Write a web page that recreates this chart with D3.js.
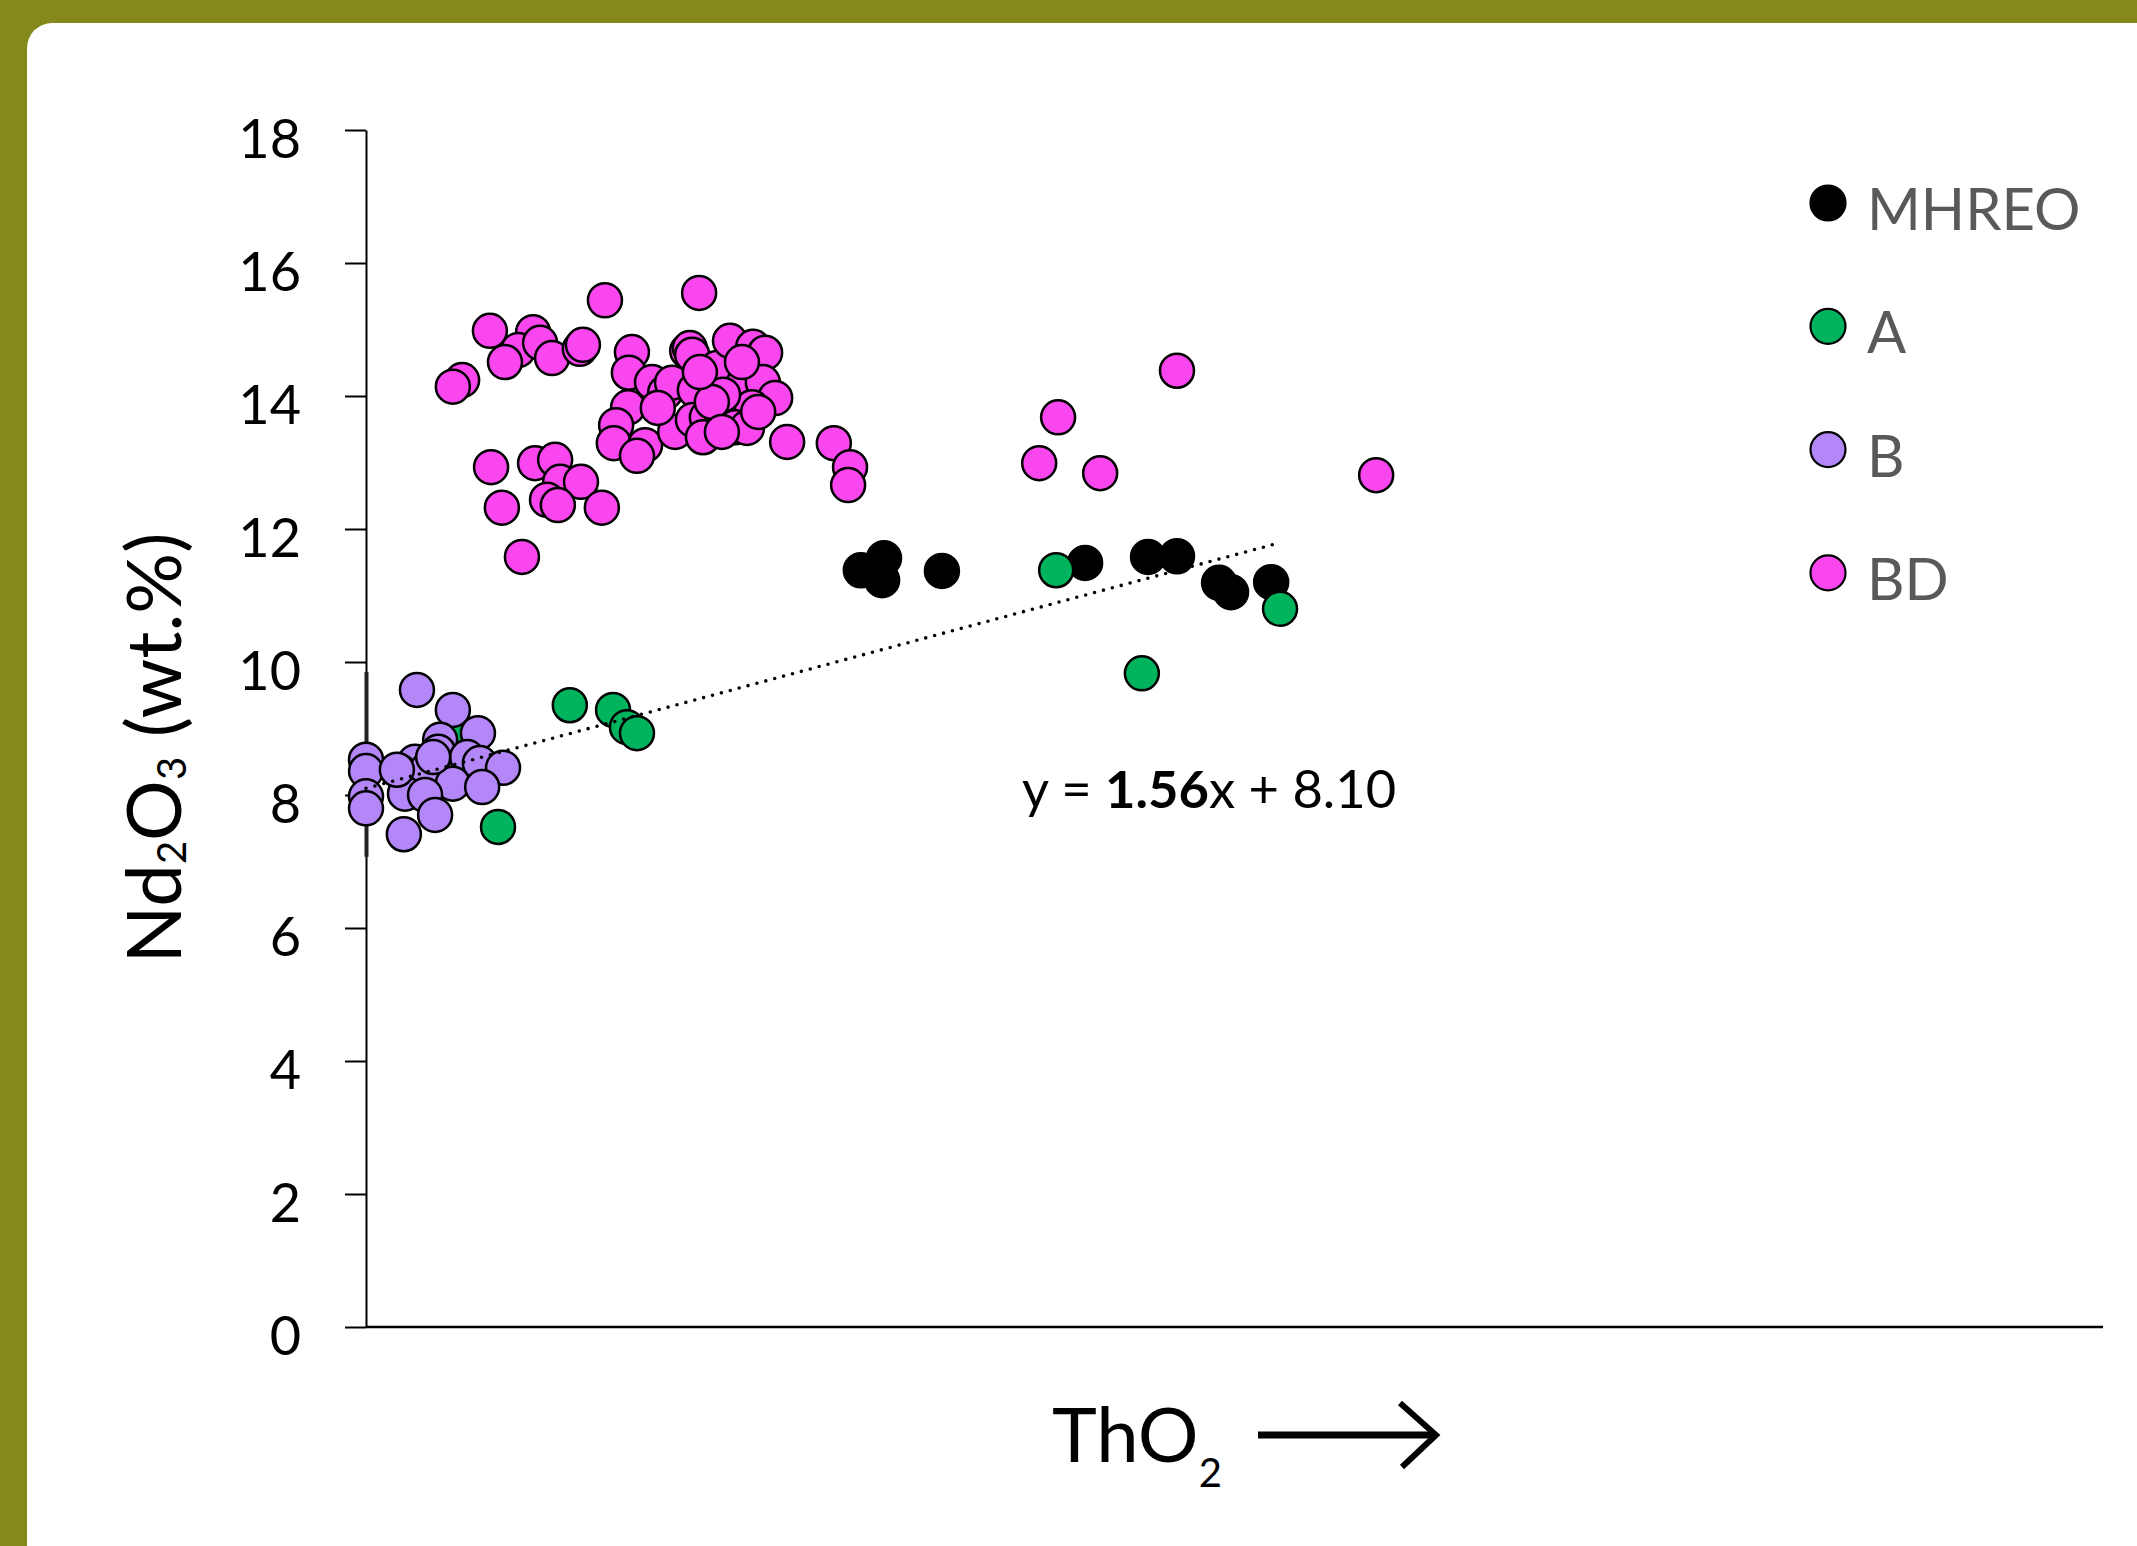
<!DOCTYPE html>
<html><head><meta charset="utf-8">
<script src="https://cdn.jsdelivr.net/npm/d3@7"></script>
<style>html,body{margin:0;padding:0;background:#85881A;} svg{display:block;} text{white-space:pre;}</style>
</head><body>
<svg id="c" width="2137" height="1546"></svg>
<script>
// ---------- data ----------
const seriesNames = ["MHREO", "A", "B", "BD"];
const seriesColors = ["#000000", "#00B45E", "#B387F7", "#FA46EE"];
const yTicks = [0, 2, 4, 6, 8, 10, 12, 14, 16, 18];

const mhreoX = [1.282, 1.342, 1.337, 1.492, 1.863, 2.026, 2.101, 2.210, 2.241, 2.345];
const mhreoY = [11.38, 11.56, 11.23, 11.37, 11.49, 11.58, 11.59, 11.19, 11.05, 11.20];

const aX = [0.528, 0.640, 0.676, 0.702, 0.342, 0.236, 1.788, 2.368, 2.010];
const aY = [9.35, 9.28, 9.02, 8.93, 7.52, 8.90, 11.38, 10.80, 9.83];

const bX = [0.132, 0.225, 0.290, 0.192, 0.187, 0.127, 0.088, 0.158, 0.262, 0.295, 0.355, 0.225, 0.301, 0.101, 0.153, 0.179, 0.098, 0.000, 0.000, 0.000, 0.000, 0.080, 0.174];
const bY = [9.58, 9.28, 8.93, 8.83, 8.65, 8.50, 8.35, 8.38, 8.57, 8.48, 8.41, 8.17, 8.12, 8.02, 8.00, 7.70, 7.41, 8.53, 8.36, 7.98, 7.80, 8.38, 8.57];

const bdX = [0.619, 0.863, 0.321, 0.433, 0.394, 0.451, 0.360, 0.482, 0.554, 0.562, 0.249, 0.225,
  0.689, 0.681, 0.679, 0.648, 0.642, 0.723, 0.702, 0.741, 0.775, 0.793, 0.832, 0.839, 0.845, 0.852,
  0.909, 0.943, 1.003, 1.034, 0.977, 1.028, 1.060, 1.000, 0.801, 0.847, 0.883, 0.873, 0.956, 0.987,
  1.091, 0.925, 1.212, 1.254, 1.249, 0.324, 0.438, 0.490, 0.503, 0.557, 0.352, 0.469, 0.497, 0.611,
  0.404, 2.101, 1.793, 1.744, 1.902, 2.617, 0.896, 0.865, 0.756, 0.974, 1.016, 0.922];
const bdY = [15.44, 15.55, 14.98, 14.96, 14.69, 14.80, 14.51, 14.57, 14.71, 14.77, 14.24, 14.14,
  14.66, 14.35, 13.83, 13.56, 13.29, 13.26, 13.10, 14.21, 14.05, 14.20, 14.68, 14.72, 14.62, 14.09,
  14.42, 14.83, 14.74, 14.65, 14.17, 14.21, 13.97, 13.83, 13.46, 13.64, 13.68, 13.38, 13.53, 13.52,
  13.31, 14.02, 13.29, 12.93, 12.66, 12.93, 12.99, 13.04, 12.71, 12.71, 12.32, 12.44, 12.36, 12.32,
  11.58, 14.38, 13.68, 12.99, 12.84, 12.81, 13.91, 14.36, 13.82, 14.51, 13.76, 13.46];

const trendSlope = 1.56, trendIntercept = 8.10, trendXRange = [0, 2.36];

// ---------- chart ----------
const svg = d3.select("#c");
svg.append("rect").attr("width", 2137).attr("height", 1546).attr("fill", "#85881A");
svg.append("rect").attr("x", 27).attr("y", 23).attr("width", 2300).attr("height", 1700).attr("rx", 25).attr("fill", "#ffffff");

const x = d3.scaleLinear().domain([0, 4.5]).range([366, 2103]);
const y = d3.scaleLinear().domain([0, 18]).range([1327, 130]);

// y axis
const gy = svg.append("g").attr("transform", `translate(${x(0)},0)`)
  .call(d3.axisLeft(y).tickValues(yTicks).tickSize(21).tickPadding(44).tickSizeOuter(0));
gy.select(".domain").attr("stroke", "#000").attr("stroke-width", 2);
gy.selectAll(".tick line").attr("stroke", "#000").attr("stroke-width", 2);
gy.selectAll(".tick text").attr("font-family", "Lato").attr("font-size", 54).attr("fill", "#000").attr("dy", "0.5em");

// darker axis segment from the embedded plot
svg.append("line").attr("x1", x(0) + 0.5).attr("x2", x(0) + 0.5).attr("y1", y(9.85)).attr("y2", y(7.07))
  .attr("stroke", "#222").attr("stroke-width", 4);

// x axis line
svg.append("line").attr("x1", x(0)).attr("x2", x.range()[1]).attr("y1", y(0)).attr("y2", y(0))
  .attr("stroke", "#000").attr("stroke-width", 2.5);

// points
const series = [[mhreoX, mhreoY], [aX, aY], [bX, bY], [bdX, bdY]];
series.forEach((s, i) => {
  const pts = s[0].map((v, j) => [v, s[1][j]]);
  svg.append("g").selectAll("circle").data(pts).join("circle")
    .attr("cx", d => x(d[0])).attr("cy", d => y(d[1])).attr("r", 17)
    .attr("fill", seriesColors[i]).attr("stroke", "#000").attr("stroke-width", 2.5);
});

// trend line
svg.append("line")
  .attr("x1", x(trendXRange[0])).attr("y1", y(trendIntercept + trendSlope * trendXRange[0]))
  .attr("x2", x(trendXRange[1])).attr("y2", y(trendIntercept + trendSlope * trendXRange[1]))
  .attr("stroke", "#000").attr("stroke-width", 3.6).attr("stroke-linecap", "round").attr("stroke-dasharray", "0 9.2");

// equation
const eq = svg.append("text").attr("x", 1022).attr("y", 808).attr("font-family", "Lato").attr("font-size", 52.5).attr("fill", "#000");
eq.append("tspan").text("y = ");
eq.append("tspan").attr("font-weight", "bold").text(trendSlope.toFixed(2));
eq.append("tspan").text("x + " + trendIntercept.toFixed(2));

// legend
seriesNames.forEach((n, i) => {
  const cy = 203 + 123.3 * i;
  svg.append("circle").attr("cx", 1828).attr("cy", cy).attr("r", 17.5)
    .attr("fill", seriesColors[i]).attr("stroke", "#000").attr("stroke-width", 2.2);
  svg.append("text").attr("x", 1867).attr("y", cy + 27).attr("font-family", "Lato").attr("font-size", 58)
    .attr("fill", "#595959").text(n);
});

// x label
const xl = svg.append("text").attr("x", 1052).attr("y", 1462).attr("font-family", "Lato").attr("font-size", 76).attr("fill", "#000");
xl.append("tspan").text("ThO");
xl.append("tspan").attr("font-size", 40).attr("dy", 25).text("2");
svg.append("line").attr("x1", 1258).attr("x2", 1432).attr("y1", 1435).attr("y2", 1435).attr("stroke", "#000").attr("stroke-width", 7);
svg.append("path").attr("d", "M1400,1403 L1436,1435 L1402,1467").attr("fill", "none").attr("stroke", "#000").attr("stroke-width", 6);

// y label
const yl = svg.append("text").attr("transform", "translate(181,748) rotate(-90)").attr("text-anchor", "middle")
  .attr("font-family", "Lato").attr("font-size", 76).attr("fill", "#000");
yl.append("tspan").text("Nd");
yl.append("tspan").attr("font-size", 40).attr("dy", 5).text("2");
yl.append("tspan").attr("dy", -5).text("O");
yl.append("tspan").attr("font-size", 40).attr("dy", 5).text("3");
yl.append("tspan").attr("dy", -5).text(" (wt.%)");
</script>
</body></html>
